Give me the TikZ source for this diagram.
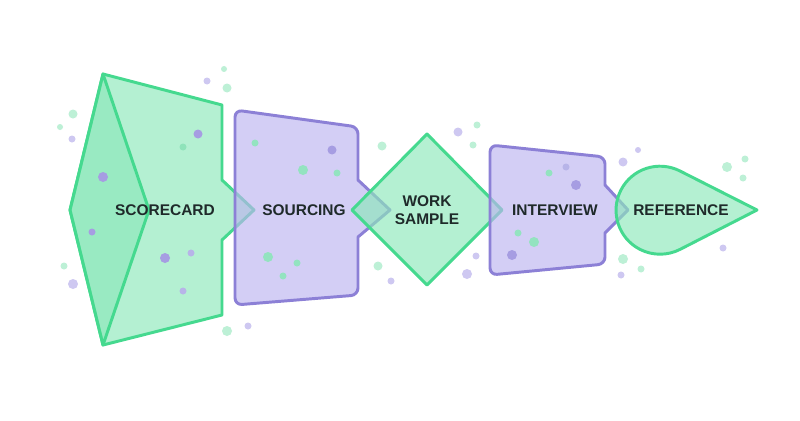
\documentclass[tikz,border=0pt]{standalone}
\usepackage{fontspec}
\setmainfont{Liberation Sans}
\usetikzlibrary{positioning}

\definecolor{mintline}{HTML}{45D98F}
\definecolor{mintfill}{HTML}{8CE8BA}
\definecolor{lilacline}{HTML}{8C80D6}
\definecolor{lilacfill}{HTML}{BCB4F0}
\definecolor{inkdark}{HTML}{1F2A2A}
\definecolor{dotG}{HTML}{BDF0D6}
\definecolor{dotP}{HTML}{CEC8F1}
\definecolor{dotPd}{HTML}{A69DE2}
\definecolor{dotPl}{HTML}{B7B4E8}
\definecolor{dotGm}{HTML}{8FE3BA}
\definecolor{dotGd}{HTML}{93E3C0}

\tikzset{
  greenshape/.style={draw=mintline, fill=mintfill, fill opacity=0.65, line width=2.1pt, line join=round},
  purpleshape/.style={draw=lilacline, fill=lilacfill, fill opacity=0.65, line width=2.1pt, line join=round},
  stagelabel/.style={font=\fontsize{11}{12.8}\selectfont\bfseries, text=inkdark, align=center, inner sep=0pt}
}

\begin{document}
\begin{tikzpicture}[x=0.025cm, y=0.025cm]

    % Canvas
    \fill[white] (0,0) rectangle (800,-420);
    \useasboundingbox (0,0) rectangle (800,-420);

    % Scorecard
    \draw[greenshape] (70,-210) -- (103,-74) -- (222,-105) -- (222,-180) -- (254,-210)
        -- (222,-240) -- (222,-315) -- (103,-345) -- cycle;
    \draw[greenshape] (70,-210) -- (103,-74) -- (149,-210) -- (103,-345) -- cycle;

    % Sourcing
    \draw[purpleshape, rounded corners=5pt] (235,-110) -- (358,-127) [sharp corners] -- (358,-180)
        -- (390,-210) -- (358,-237) [rounded corners=5pt] -- (358,-295)
        -- (235,-305) -- cycle;

    % Work sample
    \draw[greenshape] (352,-210) -- (427,-134) -- (502,-210) -- (427,-285) -- cycle;

    % Interview
    \draw[purpleshape, rounded corners=5pt] (490,-145) -- (605,-157) [sharp corners] -- (605,-185)
        -- (628,-210) -- (605,-233) [rounded corners=5pt] -- (605,-264)
        -- (490,-275) -- cycle;

    % Reference
    \draw[greenshape] (757,-210) -- (680,-171) arc[start angle=63, end angle=297, radius=44] -- cycle;

    % Dots
    \foreach \x/\y/\r/\c in {224/69/3/dotG, 207/81/3.5/dotP, 227/88/4.5/dotG, 73/114/4.5/dotG,
        60/127/3/dotG, 72/139/3.5/dotP, 64/266/3.5/dotG, 73/284/5/dotP, 227/331/5/dotG,
        248/326/3.5/dotP, 382/146/4.5/dotG, 458/132/4.5/dotP, 477/125/3.5/dotG, 473/145/3.5/dotG,
        378/266/4.5/dotG, 391/281/3.5/dotP, 476/256/3.5/dotP, 467/274/5/dotP, 623/162/4.5/dotP,
        638/150/3/dotP, 727/167/5/dotG, 745/159/3.5/dotG, 743/178/3.5/dotG, 723/248/3.5/dotP,
        623/259/5/dotG, 641/269/3.5/dotG, 621/275/3.5/dotP,
        198/134/4.5/dotPd, 183/147/3.5/dotGm, 103/177/5/dotPd, 92/232/3.5/dotPd,
        165/258/5/dotPd, 191/253/3.5/dotPl, 183/291/3.5/dotPl,
        255/143/3.5/dotGd, 332/150/4.5/dotPd, 303/170/5/dotGd, 337/173/3.5/dotGd,
        268/257/5/dotGd, 297/263/3.5/dotGd, 283/276/3.5/dotGd,
        549/173/3.5/dotGd, 566/167/3.5/dotPl, 576/185/5/dotPd, 518/233/3.5/dotGd,
        534/242/5/dotGd, 512/255/5/dotPd} {
        \fill[fill=\c] (\x,-\y) circle (\r);
    }

    % Stage labels
    \node[stagelabel] (scorecard) at (165,-210) {SCORECARD};
    \node[stagelabel] (sourcing) at (304,-210) {SOURCING};
    \node[stagelabel] (worksample) at (427,-210) {WORK\\SAMPLE};
    \node[stagelabel] (interview) at (555,-210) {INTERVIEW};
    \node[stagelabel] (reference) at (681,-210) {REFERENCE};

\end{tikzpicture}
\end{document}
